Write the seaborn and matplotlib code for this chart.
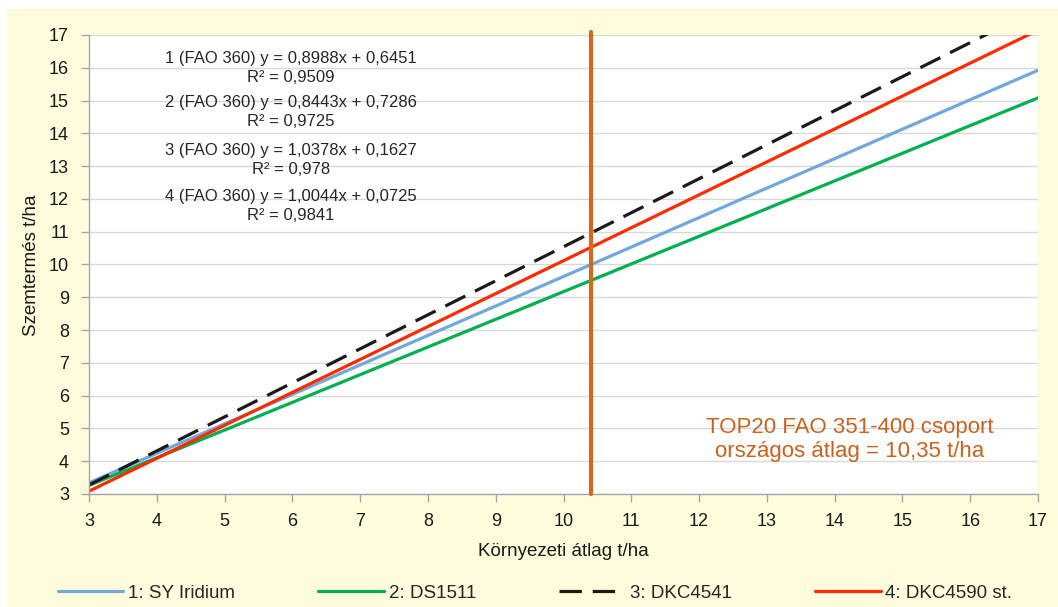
import numpy as np
import pandas as pd
import matplotlib
matplotlib.use("Agg")
import matplotlib.pyplot as plt
from matplotlib.patches import Rectangle
import seaborn as sns

# ---- data ----
series = ["1: SY Iridium", "2: DS1511", "3: DKC4541", "4: DKC4590 st."]
slopes = [0.8988, 0.8443, 1.0378, 1.0044]
intercepts = [0.6451, 0.7286, 0.1627, 0.0725]
r2 = ["0,9509", "0,9725", "0,978", "0,9841"]
eq_labels = ["1 (FAO 360) y = 0,8988x + 0,6451", "2 (FAO 360) y = 0,8443x + 0,7286",
             "3 (FAO 360) y = 1,0378x + 0,1627", "4 (FAO 360) y = 1,0044x + 0,0725"]
x_range = [3, 17]
avg_x = 10.4
x_ticks = list(range(3, 18))
y_ticks = list(range(3, 18))

colors = ["#71A8DC", "#00B050", "#1A1A1A", "#FF2A00"]

rows = []
for name, a, b in zip(series, slopes, intercepts):
    for x in x_range:
        rows.append({"x": x, "y": a * x + b, "series": name})
df = pd.DataFrame(rows)

sns.set_theme(style="white")
plt.rcParams["font.family"] = ["Liberation Sans", "DejaVu Sans"]

W, H = 1058, 607
fig = plt.figure(figsize=(W / 100, H / 100), dpi=100, facecolor="white")
fig.patches.append(Rectangle((7 / W, 0), 1 - 7 / W, 1 - 9 / H, transform=fig.transFigure,
                             facecolor="#FFFCDC", edgecolor="none", zorder=-10))

L, R, T, B = 89, 1038, 35, 494
ax = fig.add_axes([L / W, 1 - B / H, (R - L) / W, (B - T) / H])
ax.set_facecolor("white")

sns.lineplot(data=df, x="x", y="y", hue="series", style="series", palette=colors,
             dashes={series[0]: "", series[1]: "", series[2]: (7, 3.4), series[3]: ""},
             linewidth=2.3, ax=ax, legend=True)

ax.axvline(avg_x, ymin=0, ymax=1.006, color="#D2691E", lw=3, clip_on=False, zorder=5)

ax.set_xlim(3, 17)
ax.set_ylim(3, 17)
ax.set_xticks(x_ticks)
ax.set_yticks(y_ticks)
ax.yaxis.grid(True, color="#D9D9D9", lw=1)
ax.xaxis.grid(False)
for s in ["top", "right"]:
    ax.spines[s].set_visible(False)
for s in ["left", "bottom"]:
    ax.spines[s].set_color("#A6A6A6")
    ax.spines[s].set_linewidth(1)
ax.tick_params(axis="x", direction="out", length=6, width=1, color="#A6A6A6",
               pad=7.5, labelsize=13, labelcolor="#1A1A1A", bottom=True)
ax.tick_params(axis="y", direction="out", length=6, width=1, color="#A6A6A6",
               pad=8.5, labelsize=13, labelcolor="#1A1A1A", left=True)

ax.set_xlabel("Környezeti átlag t/ha", fontsize=13.5, color="#1A1A1A")
ax.xaxis.set_label_coords(0.5, (B - 543) / (B - T))
ax.set_ylabel("")
fig.text(31 / W, 1 - 265 / H, "Szemtermés t/ha", rotation=90, ha="center", va="center",
         fontsize=13.5, color="#1A1A1A")

# regression equations
eq_y = [58, 77, 102, 121, 150, 169, 197, 216]
for i in range(4):
    fig.text(291 / W, 1 - eq_y[2 * i] / H, eq_labels[i], ha="center", va="center",
             fontsize=12, color="#262626")
    fig.text(291 / W, 1 - eq_y[2 * i + 1] / H, "R² = " + r2[i], ha="center", va="center",
             fontsize=12, color="#262626")

fig.text(850 / W, 1 - 427 / H, "TOP20 FAO 351-400 csoport", ha="center", va="center",
         fontsize=16, color="#C9621E")
fig.text(850 / W, 1 - 452 / H, "országos átlag = 10,35 t/ha", ha="center", va="center",
         fontsize=16, color="#C9621E")

handles, labels = ax.get_legend_handles_labels()
ax.get_legend().remove()
fig.legend(handles, labels, loc="center", bbox_to_anchor=(535 / W, 1 - 593 / H), ncol=4,
           frameon=False, fontsize=13.5, handlelength=3.5, handletextpad=0.25,
           columnspacing=4.45)

fig.savefig("out.png", dpi=100, facecolor=fig.get_facecolor())
